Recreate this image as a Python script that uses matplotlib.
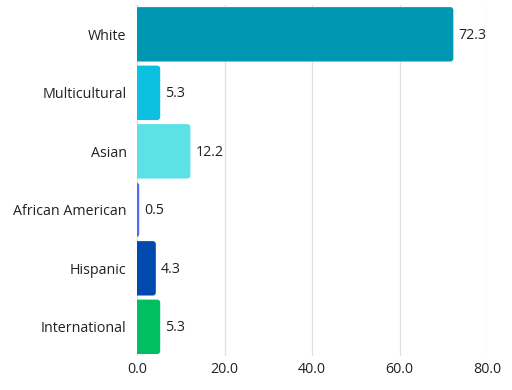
import matplotlib
matplotlib.use("Agg")
import matplotlib.pyplot as plt
from matplotlib.patches import FancyBboxPatch

categories = ["White", "Multicultural", "Asian", "African American", "Hispanic", "International"]
values = [72.3, 5.3, 12.2, 0.5, 4.3, 5.3]
colors = ["#0097B2", "#0CC0DF", "#5CE1E6", "#4F6BF5", "#004AAD", "#00BF63"]
xticks = [0, 20, 40, 60, 80]

plt.rcParams['font.family'] = ['Open Sans', 'DejaVu Sans']

fig = plt.figure(figsize=(5.12, 3.9), dpi=100)
ax = fig.add_axes([0.2676, 0.087, 0.6836, 0.900])

ypos = list(range(len(categories)))
bars = ax.barh(ypos, values, height=0.93, color=colors)
ax.set_xlim(0, 80)
ax.set_ylim(len(categories) - 0.5, -0.5)

# replace bars with rounded ones
px_x = 80 / (0.6836 * 512)
px_y = len(categories) / (0.900 * 390)
r_px = 3.0
for rect, c in zip(bars, colors):
    x, y = rect.get_x(), rect.get_y()
    w, h = rect.get_width(), rect.get_height()
    rect.set_visible(False)
    p = FancyBboxPatch((x - 2, y), w + 2, h,
                       boxstyle=f"round,pad=0,rounding_size={r_px*px_x}",
                       mutation_aspect=px_y / px_x,
                       facecolor=c, edgecolor="none", zorder=3, clip_on=True)
    ax.add_patch(p)

fs = 10.3
for y, v in zip(ypos, values):
    ax.text(v + 5 * px_x, y + 0.02, f"{v:.1f}", va="center", ha="left",
            fontsize=fs, color="#222222")

ax.set_yticks(ypos)
ax.set_yticklabels(categories, fontsize=fs, color="#222222")
ax.set_xticks(xticks)
ax.set_xticklabels([f"{t:.1f}" for t in xticks], fontsize=fs, color="#222222")
ax.tick_params(axis="y", length=0, pad=7.5)
ax.tick_params(axis="x", length=0, pad=4)
for s in ax.spines.values():
    s.set_visible(False)
ax.grid(axis="x", color="#e0e0e0", linewidth=0.9, zorder=0)
ax.set_axisbelow(True)

fig.savefig("out.png", dpi=100)
